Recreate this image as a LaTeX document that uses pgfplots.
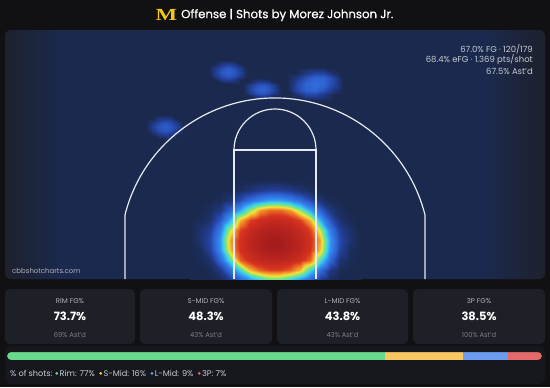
\documentclass[border=0pt]{standalone}
\usepackage{pgfplots}
\pgfplotsset{compat=1.18}
\usepackage{fontspec}
\setmainfont{Poppins}
\newfontfamily\titlefont{Poppins}[FakeBold=0.6]
\newfontfamily\mfont{Liberation Serif}
\definecolor{pagebg}{RGB}{17,17,20}
\definecolor{panelc}{RGB}{30,33,45}
\definecolor{navyc}{RGB}{26,41,77}
\definecolor{cardc}{RGB}{30,32,40}
\definecolor{botc}{RGB}{23,24,29}
\definecolor{linec}{RGB}{232,234,242}
\definecolor{statc}{RGB}{200,204,212}
\definecolor{labc}{RGB}{175,178,186}
\definecolor{astc}{RGB}{125,128,138}
\definecolor{rimc}{RGB}{104,217,140}
\definecolor{smidc}{RGB}{247,200,98}
\definecolor{lmidc}{RGB}{107,156,240}
\definecolor{tpc}{RGB}{226,106,106}
\definecolor{mgold}{RGB}{245,197,24}
\pgfdeclarehorizontalshading{bgsh}{100bp}{color(0bp)=(panelc); color(25bp)=(panelc); color(30bp)=(navyc); color(69.5bp)=(navyc); color(75bp)=(panelc); color(100bp)=(panelc)}
\newcommand{\dotc}[1]{\tikz[baseline=-0.6ex]\fill[#1] (0,0) circle (1.5bp);\,}
\begin{document}
\begin{tikzpicture}[x=1bp,y=1bp]
\useasboundingbox (0,0) rectangle (550,387);
\fill[pagebg] (0,0) rectangle (550,387);
\fill[panelc, rounded corners=6bp] (5,108) rectangle (545,357);
\shade[shading=bgsh, rounded corners=6bp] (5,108) rectangle (545,357);
\begin{axis}[at={(5bp,108bp)}, anchor=south west, scale only axis, width=540bp, height=249bp,
  xmin=5, xmax=545, ymin=108, ymax=357, zmin=0, zmax=1, view={0}{90}, hide axis,
  point meta min=0, point meta max=1,
  colormap={heat}{rgb255(0pt)=(26,41,77); rgb255(10pt)=(34,62,150); rgb255(20pt)=(46,98,210); rgb255(32pt)=(52,140,240); rgb255(44pt)=(60,212,235); rgb255(54pt)=(130,228,120); rgb255(63pt)=(240,228,60); rgb255(73pt)=(242,140,40); rgb255(84pt)=(215,50,32); rgb255(100pt)=(165,28,28)}]
% rim blob
\addplot3[surf, shader=interp, mesh/rows=11, mesh/cols=18, point meta=z] coordinates {
(190,207,0) (200,207,0) (210,207,0) (220,207,0) (230,207,0) (240,207,0) (250,207,0) (260,207,0) (270,207,0) (280,207,0) (290,207,0) (300,207,0) (310,207,0) (320,207,0) (330,207,0) (340,207,0) (350,207,0) (360,207,0)
(190,197,0) (200,197,0) (210,197,0) (220,197,0) (230,197,0) (240,197,0.02) (250,197,0.05) (260,197,0.08) (270,197,0.10) (280,197,0.10) (290,197,0.08) (300,197,0.05) (310,197,0.02) (320,197,0) (330,197,0) (340,197,0) (350,197,0) (360,197,0)
(190,187,0) (200,187,0) (210,187,0) (220,187,0.01) (230,187,0.05) (240,187,0.14) (250,187,0.23) (260,187,0.30) (270,187,0.35) (280,187,0.35) (290,187,0.30) (300,187,0.23) (310,187,0.14) (320,187,0.05) (330,187,0.01) (340,187,0) (350,187,0) (360,187,0)
(190,177,0) (200,177,0) (210,177,0.02) (220,177,0.07) (230,177,0.20) (240,177,0.36) (250,177,0.55) (260,177,0.71) (270,177,0.77) (280,177,0.77) (290,177,0.71) (300,177,0.55) (310,177,0.36) (320,177,0.20) (330,177,0.07) (340,177,0.02) (350,177,0) (360,177,0)
(190,167,0) (200,167,0.01) (210,167,0.04) (220,167,0.17) (230,167,0.38) (240,167,0.68) (250,167,0.82) (260,167,0.88) (270,167,0.90) (280,167,0.90) (290,167,0.88) (300,167,0.82) (310,167,0.68) (320,167,0.38) (330,167,0.17) (340,167,0.04) (350,167,0.01) (360,167,0)
(190,157,0) (200,157,0.04) (210,157,0.10) (220,157,0.28) (230,157,0.60) (240,157,0.82) (250,157,0.90) (260,157,0.94) (270,157,0.96) (280,157,0.96) (290,157,0.94) (300,157,0.90) (310,157,0.82) (320,157,0.60) (330,157,0.28) (340,157,0.10) (350,157,0.04) (360,157,0)
(190,147,0) (200,147,0.05) (210,147,0.13) (220,147,0.34) (230,147,0.70) (240,147,0.86) (250,147,0.93) (260,147,0.97) (270,147,1.0) (280,147,1.0) (290,147,0.97) (300,147,0.93) (310,147,0.86) (320,147,0.70) (330,147,0.34) (340,147,0.13) (350,147,0.05) (360,147,0)
(190,137,0) (200,137,0.02) (210,137,0.11) (220,137,0.32) (230,137,0.67) (240,137,0.85) (250,137,0.92) (260,137,0.96) (270,137,0.99) (280,137,0.99) (290,137,0.96) (300,137,0.92) (310,137,0.85) (320,137,0.67) (330,137,0.32) (340,137,0.11) (350,137,0.02) (360,137,0)
(190,127,0) (200,127,0.01) (210,127,0.05) (220,127,0.22) (230,127,0.48) (240,127,0.78) (250,127,0.87) (260,127,0.91) (270,127,0.93) (280,127,0.93) (290,127,0.91) (300,127,0.87) (310,127,0.78) (320,127,0.48) (330,127,0.22) (340,127,0.05) (350,127,0.01) (360,127,0)
(190,117,0) (200,117,0) (210,117,0.01) (220,117,0.08) (230,117,0.24) (240,117,0.45) (250,117,0.68) (260,117,0.78) (270,117,0.82) (280,117,0.82) (290,117,0.78) (300,117,0.68) (310,117,0.45) (320,117,0.24) (330,117,0.08) (340,117,0.01) (350,117,0) (360,117,0)
(190,108,0) (200,108,0) (210,108,0) (220,108,0.02) (230,108,0.10) (240,108,0.22) (250,108,0.35) (260,108,0.45) (270,108,0.52) (280,108,0.52) (290,108,0.45) (300,108,0.35) (310,108,0.22) (320,108,0.10) (330,108,0.02) (340,108,0) (350,108,0) (360,108,0)
};
% blob 1 (228,315)
\addplot3[surf, shader=interp, mesh/rows=7, mesh/cols=7, point meta=z] coordinates {
(209,327.3,0) (215.3,327.3,0) (221.7,327.3,0) (228,327.3,0) (234.3,327.3,0) (240.7,327.3,0) (247,327.3,0)
(209,323.2,0) (215.3,323.2,0) (221.7,323.2,0.075) (228,323.2,0.10) (234.3,323.2,0.075) (240.7,323.2,0) (247,323.2,0)
(209,319.1,0) (215.3,319.1,0.075) (221.7,319.1,0.15) (228,319.1,0.175) (234.3,319.1,0.15) (240.7,319.1,0.075) (247,319.1,0)
(209,315,0) (215.3,315,0.10) (221.7,315,0.175) (228,315,0.20) (234.3,315,0.175) (240.7,315,0.10) (247,315,0)
(209,310.9,0) (215.3,310.9,0.075) (221.7,310.9,0.15) (228,310.9,0.175) (234.3,310.9,0.15) (240.7,310.9,0.075) (247,310.9,0)
(209,306.8,0) (215.3,306.8,0) (221.7,306.8,0.075) (228,306.8,0.10) (234.3,306.8,0.075) (240.7,306.8,0) (247,306.8,0)
(209,302.7,0) (215.3,302.7,0) (221.7,302.7,0) (228,302.7,0) (234.3,302.7,0) (240.7,302.7,0) (247,302.7,0)
};
% blob 3 (262,298)
\addplot3[surf, shader=interp, mesh/rows=7, mesh/cols=7, point meta=z] coordinates {
(243,309,0) (249.3,309,0) (255.7,309,0) (262,309,0) (268.3,309,0) (274.7,309,0) (281,309,0)
(243,305.3,0) (249.3,305.3,0) (255.7,305.3,0.075) (262,305.3,0.10) (268.3,305.3,0.075) (274.7,305.3,0) (281,305.3,0)
(243,301.7,0) (249.3,301.7,0.075) (255.7,301.7,0.15) (262,301.7,0.175) (268.3,301.7,0.15) (274.7,301.7,0.075) (281,301.7,0)
(243,298,0) (249.3,298,0.10) (255.7,298,0.175) (262,298,0.20) (268.3,298,0.175) (274.7,298,0.10) (281,298,0)
(243,294.3,0) (249.3,294.3,0.075) (255.7,294.3,0.15) (262,294.3,0.175) (268.3,294.3,0.15) (274.7,294.3,0.075) (281,294.3,0)
(243,290.7,0) (249.3,290.7,0) (255.7,290.7,0.075) (262,290.7,0.10) (268.3,290.7,0.075) (274.7,290.7,0) (281,290.7,0)
(243,287,0) (249.3,287,0) (255.7,287,0) (262,287,0) (268.3,287,0) (274.7,287,0) (281,287,0)
};
% blob 4 (315,303)
\addplot3[surf, shader=interp, mesh/rows=7, mesh/cols=7, point meta=z] coordinates {
(287,320,0) (296.3,320,0) (305.7,320,0) (315,320,0) (324.3,320,0) (333.7,320,0) (343,320,0)
(287,314.3,0) (296.3,314.3,0) (305.7,314.3,0.07) (315,314.3,0.12) (324.3,314.3,0.11) (333.7,314.3,0.03) (343,314.3,0)
(287,308.7,0) (296.3,308.7,0.07) (305.7,308.7,0.16) (315,308.7,0.21) (324.3,308.7,0.20) (333.7,308.7,0.12) (343,308.7,0)
(287,303,0) (296.3,303,0.12) (305.7,303,0.21) (315,303,0.24) (324.3,303,0.21) (333.7,303,0.12) (343,303,0)
(287,297.3,0) (296.3,297.3,0.12) (305.7,297.3,0.20) (315,297.3,0.21) (324.3,297.3,0.16) (333.7,297.3,0.07) (343,297.3,0)
(287,291.7,0) (296.3,291.7,0.03) (305.7,291.7,0.11) (315,291.7,0.12) (324.3,291.7,0.07) (333.7,291.7,0) (343,291.7,0)
(287,286,0) (296.3,286,0) (305.7,286,0) (315,286,0) (324.3,286,0) (333.7,286,0) (343,286,0)
};
% blob 5 (165,260)
\addplot3[surf, shader=interp, mesh/rows=7, mesh/cols=7, point meta=z] coordinates {
(146,272,0) (152.3,272,0) (158.7,272,0) (165,272,0) (171.3,272,0) (177.7,272,0) (184,272,0)
(146,268,0) (152.3,268,0) (158.7,268,0.07) (165,268,0.095) (171.3,268,0.07) (177.7,268,0) (184,268,0)
(146,264,0) (152.3,264,0.07) (158.7,264,0.14) (165,264,0.165) (171.3,264,0.14) (177.7,264,0.07) (184,264,0)
(146,260,0) (152.3,260,0.095) (158.7,260,0.165) (165,260,0.19) (171.3,260,0.165) (177.7,260,0.095) (184,260,0)
(146,256,0) (152.3,256,0.07) (158.7,256,0.14) (165,256,0.165) (171.3,256,0.14) (177.7,256,0.07) (184,256,0)
(146,252,0) (152.3,252,0) (158.7,252,0.07) (165,252,0.095) (171.3,252,0.07) (177.7,252,0) (184,252,0)
(146,248,0) (152.3,248,0) (158.7,248,0) (165,248,0) (171.3,248,0) (177.7,248,0) (184,248,0)
};
\end{axis}
% court lines
\begin{scope}[draw=linec, line width=1.2bp]
\draw (125,108) -- (125,172.2) arc[start angle=165.82, end angle=14.18, radius=154.7] -- (425,108);
\draw (234,108) -- (234,237) -- (316,237) -- (316,108);
\draw (316,237) arc[start angle=0, end angle=180, radius=41];
\end{scope}
% stats text
\node[anchor=east, text=statc, font=\fontsize{8.5}{9}\selectfont, inner sep=0] at (533,338) {67.0\% FG · 120/179};
\node[anchor=east, text=statc, font=\fontsize{8.5}{9}\selectfont, inner sep=0] at (533,327) {68.4\% eFG · 1.369 pts/shot};
\node[anchor=east, text=statc, font=\fontsize{8.5}{9}\selectfont, inner sep=0] at (533,316) {67.5\% Ast'd};
\node[anchor=west, text=labc, font=\fontsize{7}{8}\selectfont, inner sep=0] at (12,116) {cbbshotcharts.com};
% title
\node[text=mgold, font=\mfont\bfseries\fontsize{17}{17}\selectfont, inner sep=0, xscale=1.35] at (166.5,372) {M};
\node[anchor=west, text=white, font=\titlefont\fontsize{11.8}{13}\selectfont, inner sep=0] at (181,372) {Offense | Shots by Morez Johnson Jr.};
% cards
\fill[cardc, rounded corners=5bp] (5,43) rectangle (135,98);
\fill[cardc, rounded corners=5bp] (140,43) rectangle (272,98);
\fill[cardc, rounded corners=5bp] (277,43) rectangle (408,98);
\fill[cardc, rounded corners=5bp] (413,43) rectangle (545,98);
\foreach \cx/\lab/\val/\ast in {70/RIM FG\%/73.7\%/69\% Ast'd, 206/S-MID FG\%/48.3\%/43\% Ast'd, 342.5/L-MID FG\%/43.8\%/43\% Ast'd, 479/3P FG\%/38.5\%/100\% Ast'd}{
  \node[text=labc, font=\fontsize{7}{8}\selectfont, inner sep=0] at (\cx,86) {\lab};
  \node[text=white, font=\bfseries\fontsize{11.5}{12}\selectfont, inner sep=0] at (\cx,70.5) {\val};
  \node[text=astc, font=\fontsize{6.8}{7}\selectfont, inner sep=0] at (\cx,52) {\ast};
}
% bottom
\fill[botc, rounded corners=6bp] (5,3) rectangle (545,41);
\begin{axis}[at={(7bp,27bp)}, anchor=south west, scale only axis, width=535bp, height=8bp,
  xmin=0, xmax=109, ymin=-0.5, ymax=0.5, hide axis, xbar stacked, bar width=8bp]
\addplot+[fill=rimc, draw=none] coordinates {(77,0)};
\addplot+[fill=smidc, draw=none] coordinates {(16,0)};
\addplot+[fill=lmidc, draw=none] coordinates {(9,0)};
\addplot+[fill=tpc, draw=none] coordinates {(7,0)};
\end{axis}
\fill[botc, even odd rule] (6,25) rectangle (543,37) [rounded corners=4bp] (7,27) rectangle (542,35);
\node[anchor=west, text=statc, font=\fontsize{8.2}{9}\selectfont, inner sep=0] at (10,14) {\% of shots: \dotc{rimc}Rim: 77\% \ \dotc{smidc}S-Mid: 16\% \ \dotc{lmidc}L-Mid: 9\% \ \dotc{tpc}3P: 7\%};
\end{tikzpicture}
\end{document}
